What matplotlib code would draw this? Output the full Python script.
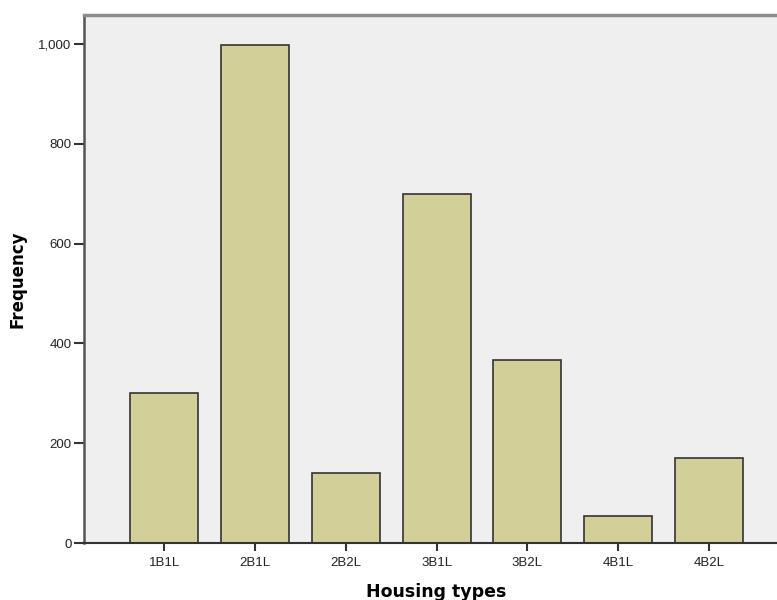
import matplotlib.pyplot as plt
from matplotlib.ticker import FuncFormatter

categories = ["1B1L", "2B1L", "2B2L", "3B1L", "3B2L", "4B1L", "4B2L"]
counts = [300, 998, 141, 700, 366, 55, 170]
yticks = [0, 200, 400, 600, 800, 1000]

fig = plt.figure(figsize=(7.77, 6.0), dpi=100)
ax = fig.add_axes([84 / 777, 57 / 600, 704 / 777, 528 / 600])
ax.set_facecolor("#efefef")

x = list(range(len(categories)))
ax.bar(x, counts, width=0.75, color="#d3cf98", edgecolor="#333333", linewidth=1.2, zorder=2)

ax.set_xlim(-0.884, 6.87)
ax.set_ylim(0, 1058)
ax.set_xticks(x)
ax.set_xticklabels(categories)
ax.set_yticks(yticks)
ax.yaxis.set_major_formatter(FuncFormatter(lambda v, p: f"{int(v):,}"))

ax.tick_params(axis="both", labelsize=9.5, labelcolor="#222222",
               labelfontfamily="Liberation Sans")
ax.tick_params(axis="y", length=7, width=1.5, color="#333333", pad=2)
ax.tick_params(axis="x", length=6, width=1.5, color="#333333", pad=4)

ax.spines["right"].set_visible(False)
ax.spines["top"].set_color("#8c8c8c")
ax.spines["top"].set_linewidth(2.5)
ax.spines["left"].set_color("#555555")
ax.spines["left"].set_linewidth(1.8)
ax.spines["bottom"].set_color("#333333")
ax.spines["bottom"].set_linewidth(1.5)

# axis titles placed where the SPSS output has them
fig.text(436 / 777, 1 - 583 / 600, "Housing types", fontsize=12.5, fontweight="bold",
         ha="center", va="top")
fig.text(18 / 777, 1 - 279 / 600, "Frequency", fontsize=12, fontweight="bold",
         rotation=90, ha="center", va="center")

fig.savefig("out.png", dpi=100)
